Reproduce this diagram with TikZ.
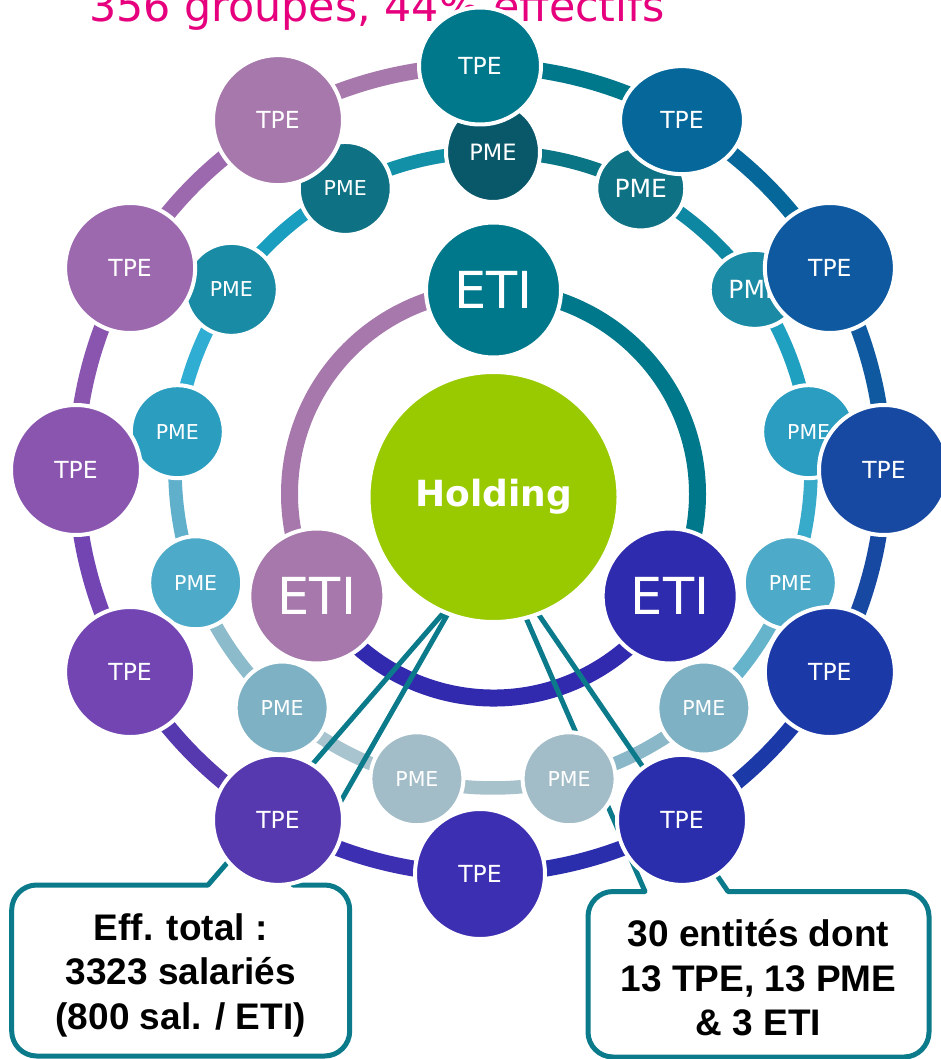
\documentclass[tikz,border=0pt]{standalone}
\usepackage{fontspec}
\setmainfont{DejaVu Sans}
\newfontfamily\arialfont{Liberation Sans}
\usetikzlibrary{shapes.geometric}
\pgfdeclarelayer{rings}
\pgfdeclarelayer{callouts}
\pgfsetlayers{rings,callouts,main}
% TPE colours
\definecolor{t0}{HTML}{00788C}
\definecolor{t1}{HTML}{05679A}
\definecolor{t2}{HTML}{0E59A0}
\definecolor{t3}{HTML}{1849A2}
\definecolor{t4}{HTML}{1C39A8}
\definecolor{t5}{HTML}{2A2EAC}
\definecolor{t6}{HTML}{3D2FB1}
\definecolor{t7}{HTML}{5639AF}
\definecolor{t8}{HTML}{7245B3}
\definecolor{t9}{HTML}{8A55AF}
\definecolor{t10}{HTML}{9C68AE}
\definecolor{t11}{HTML}{A678AB}
% PME colours
\definecolor{p0}{HTML}{09586A}
\definecolor{p1}{HTML}{0E7184}
\definecolor{p2}{HTML}{1A8AA5}
\definecolor{p3}{HTML}{2B9DC0}
\definecolor{p4}{HTML}{4DAAC8}
\definecolor{p5}{HTML}{7EB1C4}
\definecolor{p6}{HTML}{A3BDC8}
\definecolor{p7}{HTML}{A3BDC8}
\definecolor{p8}{HTML}{7EB1C4}
\definecolor{p9}{HTML}{4DAAC8}
\definecolor{p10}{HTML}{2B9EC0}
\definecolor{p11}{HTML}{1A8BA5}
\definecolor{p12}{HTML}{0E7184}
% middle ring segment colours
\definecolor{s0}{HTML}{0A7585}
\definecolor{s1}{HTML}{0E88A2}
\definecolor{s2}{HTML}{20A0C0}
\definecolor{s3}{HTML}{38AACA}
\definecolor{s4}{HTML}{66B4CC}
\definecolor{s5}{HTML}{8AB8C8}
\definecolor{s6}{HTML}{A8C2CC}
\definecolor{s7}{HTML}{A8C4CE}
\definecolor{s8}{HTML}{8CBBCB}
\definecolor{s9}{HTML}{60B0CC}
\definecolor{s10}{HTML}{30ADD2}
\definecolor{s11}{HTML}{1A9EC0}
\definecolor{s12}{HTML}{1290A8}
% others
\definecolor{etiT}{HTML}{00788C}
\definecolor{etiL}{HTML}{A678AB}
\definecolor{etiR}{HTML}{2F2BAE}
\definecolor{arcB}{HTML}{3129AE}
\definecolor{holdc}{HTML}{99CA00}
\definecolor{boxc}{HTML}{0B7A8A}
\definecolor{titlec}{HTML}{E6007E}
\tikzset{
  circ/.style={draw=white, line width=4pt, inner sep=0pt, text=white},
  tpe/.style={circ, circle, minimum size=130pt, font=\fontsize{23.5}{28}\selectfont},
  pme/.style={circ, circle, minimum size=93pt, font=\fontsize{20.5}{24}\selectfont},
  eti/.style={circ, circle, minimum size=135pt, font=\fontsize{51}{60}\selectfont},
  hold/.style={circ, circle, minimum size=250pt, fill=holdc, font=\bfseries\fontsize{36}{42}\selectfont},
  oseg/.style={line width=16pt},
  mseg/.style={line width=13.5pt},
  iseg/.style={line width=17pt},
  callout/.style={draw=boxc, line width=5pt, line join=round},
  boxtext/.style={align=center, inner sep=0pt, text=black, font=\arialfont\bfseries\fontsize{37}{44.5}\selectfont},
  titlestyle/.style={anchor=base west, inner sep=0pt, text=titlec, font=\fontsize{42.8}{50}\selectfont}
}
\begin{document}
\begin{tikzpicture}[x=1pt,y=-1pt]
\useasboundingbox (0,0) rectangle (940,1059);

% PME nodes (middle ring)
\node[pme, ellipse, minimum width=94pt, minimum height=100pt, fill=p0, font=\fontsize{22.5}{26}\selectfont] (p0) at (493,152) {PME};
\node[pme, ellipse, minimum width=89pt, minimum height=84pt, fill=p1, font=\fontsize{25}{29}\selectfont] (p1) at ({493+318*cos(90-360/13)},{470-318*sin(90-360/13)}) {PME};
\node[pme, ellipse, minimum width=90pt, minimum height=79pt, fill=p2, font=\fontsize{25}{29}\selectfont] (p2) at ({493+318*cos(90-2*360/13)},{470-318*sin(90-2*360/13)}) {PME};
\foreach \k in {3,...,12}
  \node[pme, fill=p\k] (p\k) at ({493+318*cos(90-\k*360/13)},{470-318*sin(90-\k*360/13)}) {PME};

% TPE nodes (outer ring)
\node[tpe, ellipse, minimum width=122pt, minimum height=117pt, fill=t0] (t0) at (480,66) {TPE};
\node[tpe, ellipse, minimum width=124pt, minimum height=108pt, fill=t1] (t1) at ({480+404*cos(60)},{470-404*sin(60)}) {TPE};
\foreach \k in {2,...,11}
  \node[tpe, fill=t\k] (t\k) at ({480+404*cos(90-30*\k)},{470-404*sin(90-30*\k)}) {TPE};

% ETI and holding
\node[eti, fill=etiT] (etiT) at (493.5,290) {ETI};
\node[eti, fill=etiL] (etiL) at ({493.5+204*cos(210)},{494-204*sin(210)}) {ETI};
\node[eti, fill=etiR] (etiR) at ({493.5+204*cos(330)},{494-204*sin(330)}) {ETI};
\node[hold] (hold) at (493.5,497) {Holding};

% callout texts
\node[boxtext] (txtL) at (180.7,975) {Eff. total :\\3323 salariés\\(800 sal. / ETI)};
\node[boxtext] (txtR) at (758.5,978) {30 entités dont\\13 TPE, 13 PME\\\& 3 ETI};

\coordinate (tipL) at (458,596);
\coordinate (tipR) at (500,558);

\begin{pgfonlayer}{rings}
  \fill[white] (0,0) rectangle (940,1059);
  \node[titlestyle] (title) at (89,22) {356 groupes, 44\% effectifs};
  \foreach \k in {0,...,11}
    \draw[oseg, draw=t\k] (t\k.center) arc[start angle={90-30*\k}, end angle={60-30*\k}, radius=404pt];
  \foreach \k in {0,...,12}
    \draw[mseg, draw=s\k] (p\k.center) arc[start angle={90-\k*360/13}, end angle={90-(\k+1)*360/13}, radius=318pt];
  \draw[iseg, draw=etiL] (etiT.center) arc[start angle=90, end angle=210, radius=204pt];
  \draw[iseg, draw=etiT] (etiT.center) arc[start angle=90, end angle=-30, radius=204pt];
  \draw[iseg, draw=arcB] (etiL.center) arc[start angle=210, end angle=330, radius=204pt];
\end{pgfonlayer}

\begin{pgfonlayer}{callouts}
  \draw[callout] (tipL) -- (208,885) -- (36.7,885)
     arc[start angle=90, end angle=180, radius=25pt] -- (11.7,1031)
     arc[start angle=180, end angle=270, radius=25pt] -- (324.7,1056)
     arc[start angle=270, end angle=360, radius=25pt] -- (349.7,910)
     arc[start angle=0, end angle=90, radius=25pt] -- (293,885) -- cycle;
  \draw[callout] (tipR) -- (645,891.5) -- (613,891.5)
     arc[start angle=90, end angle=180, radius=25pt] -- (588,1032)
     arc[start angle=180, end angle=270, radius=25pt] -- (904,1057)
     arc[start angle=270, end angle=360, radius=25pt] -- (929,916.5)
     arc[start angle=0, end angle=90, radius=25pt] -- (728,891.5) -- cycle;
\end{pgfonlayer}
\end{tikzpicture}
\end{document}
